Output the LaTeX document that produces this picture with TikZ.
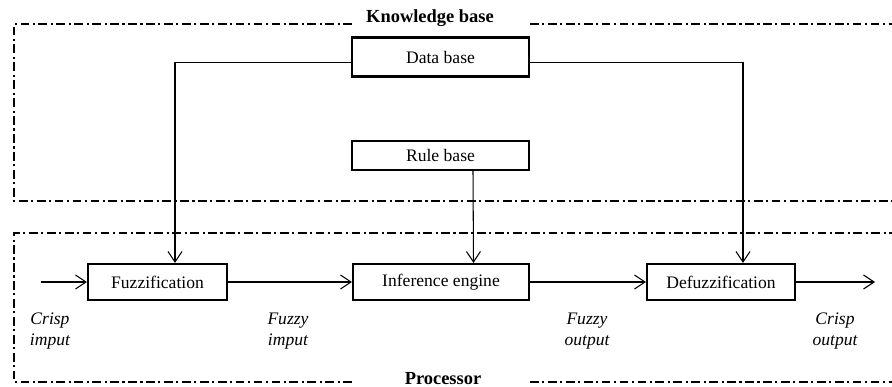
\documentclass[tikz,border=0pt]{standalone}
\usepackage{fontspec}
\setmainfont{Liberation Serif}
\usetikzlibrary{arrows.meta,positioning}

\begin{document}
\begin{tikzpicture}[
    block/.style={rectangle, draw, line width=1.2pt, minimum width=3.54cm, minimum height=0.72cm, align=center, font=\fontsize{10}{12}\selectfont},
    frame/.style={line width=0.6pt, dash pattern=on 5pt off 2pt on 1.2pt off 2pt},
    arrow/.style={-{Straight Barb[length=6pt,width=8pt]}, line width=0.6pt},
    signal/.style={align=center, font=\fontsize{10}{12}\selectfont\itshape},
    title/.style={font=\fontsize{10.5}{12}\selectfont\bfseries}
]
    \useasboundingbox (0,0) rectangle (17.84,7.74);

    % Knowledge base frame
    \node[title] (kb) at (8.6,7.38) {Knowledge base};
    \draw[frame] (7.04,7.26) -- (0.28,7.26) -- (0.28,3.72) -- (17.84,3.72);
    \draw[frame] (10.6,7.26) -- (17.84,7.26);

    % Processor frame
    \node[title] (proc) at (8.86,0.16) {Processor};
    \draw[frame] (7.04,0.1) -- (0.28,0.1) -- (0.28,3.08) -- (17.84,3.08);
    \draw[frame] (10.6,0.1) -- (17.84,0.1);

    % Knowledge base
    \node[block, minimum height=0.78cm] (db) at (8.81,6.6) {Data base};
    \node[block, minimum height=0.58cm] (rb) at (8.81,4.63) {Rule base};

    % Processor
    \node[block, minimum width=2.78cm] (fuzz) at (3.15,2.1) {Fuzzification};
    \node[block, minimum width=3.52cm] (inf) at (8.82,2.1) {Inference engine};
    \node[block, minimum width=2.96cm] (defuzz) at (14.42,2.1) {Defuzzification};

    \coordinate (in) at (0.82,2.1);
    \coordinate (out) at (17.5,2.1);

    % Signals
    \node[signal] (cin) at (1.0,1.12) {Crisp\\imput};
    \node[signal] (fin) at (5.76,1.12) {Fuzzy\\imput};
    \node[signal] (fout) at (11.74,1.12) {Fuzzy\\output};
    \node[signal] (cout) at (16.7,1.12) {Crisp\\output};

    % Arrows
    \draw[arrow] ([yshift=-3pt]db.west) -| ([xshift=0.35cm]fuzz.north);
    \draw[arrow] ([yshift=-3pt]db.east) -| ([xshift=0.44cm]defuzz.north);
    \draw[arrow] ([xshift=0.65cm]rb.south) -- ([xshift=0.65cm]inf.north);
    \draw[arrow] (in) -- (fuzz);
    \draw[arrow] (fuzz) -- (inf);
    \draw[arrow] (inf) -- (defuzz);
    \draw[arrow] (defuzz) -- (out);
\end{tikzpicture}
\end{document}
